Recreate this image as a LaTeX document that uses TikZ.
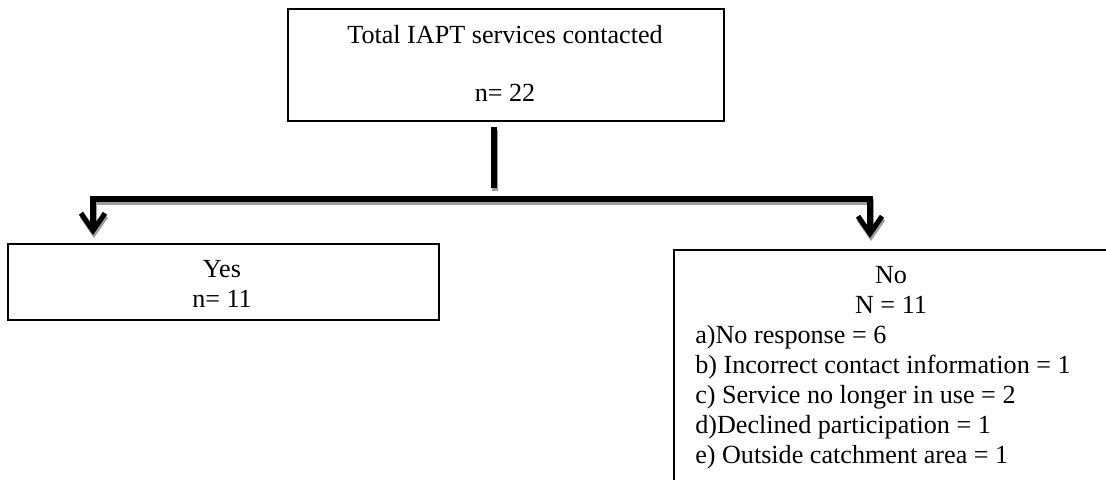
\documentclass[tikz,border=0pt]{standalone}
\usepackage{fontspec}
\setmainfont{Liberation Serif}
\usetikzlibrary{arrows.meta,calc}
\begin{document}
\begin{tikzpicture}[x=0.75pt,y=-0.75pt,
  boxnode/.style={draw=black,line width=1.5pt,rectangle,inner sep=0pt,anchor=north west},
  txt/.style={inner sep=0pt,anchor=base,font=\fontsize{19.6pt}{22.5pt}\selectfont},
  txtl/.style={txt,anchor=base west},
  conn/.style={line width=3.8pt,line join=miter,line cap=butt},
  shade/.style={conn,draw=black!38,transform canvas={shift={(1,3)}}},
  tipboth/.style={{Straight Barb[length=13pt,width=18pt]}-{Straight Barb[length=13pt,width=18pt]}}
]
\useasboundingbox (0,0) rectangle (1106,479);
\clip (0,0) rectangle (1106,479);
% boxes
\node[boxnode,minimum width=436*0.75pt,minimum height=112*0.75pt] (top) at (287,8) {};
\node[boxnode,minimum width=431*0.75pt,minimum height=76*0.75pt] (yes) at (7,243) {};
\node[boxnode,minimum width=437*0.75pt,minimum height=300*0.75pt] (no) at (673,249) {};
% texts
\node[txt] (t1) at (505,43) {Total IAPT services contacted};
\node[txt] (t2) at (505,101) {n= 22};
\node[txt] (y1) at (222,277) {Yes};
\node[txt] (y2) at (222,307) {n= 11};
\node[txt] (n1) at (891,283) {No};
\node[txt] (n2) at (891,313) {N = 11};
\node[txtl] (la) at (695,343) {a)No response = 6};
\node[txtl] (lb) at (695,373) {b) Incorrect contact information = 1};
\node[txtl] (lc) at (695,403) {c) Service no longer in use = 2};
\node[txtl] (ld) at (695,433) {d)Declined participation = 1};
\node[txtl] (le) at (695,463) {e) Outside catchment area = 1};
% connectors
\coordinate (j) at (494,188);
\coordinate (bl) at (93,199);
\coordinate (br) at (870,199);
\draw[shade] ($(top.south -| j)+(0,5)$) -- (j);
\draw[conn] ($(top.south -| j)+(0,5)$) -- (j);
\draw[shade,tipboth] ($(yes.north -| bl)+(0,-8)$) -- (bl) -- (br) -- ($(no.north -| br)+(0,-11)$);
\draw[conn,tipboth] ($(yes.north -| bl)+(0,-8)$) -- (bl) -- (br) -- ($(no.north -| br)+(0,-11)$);
\end{tikzpicture}
\end{document}
